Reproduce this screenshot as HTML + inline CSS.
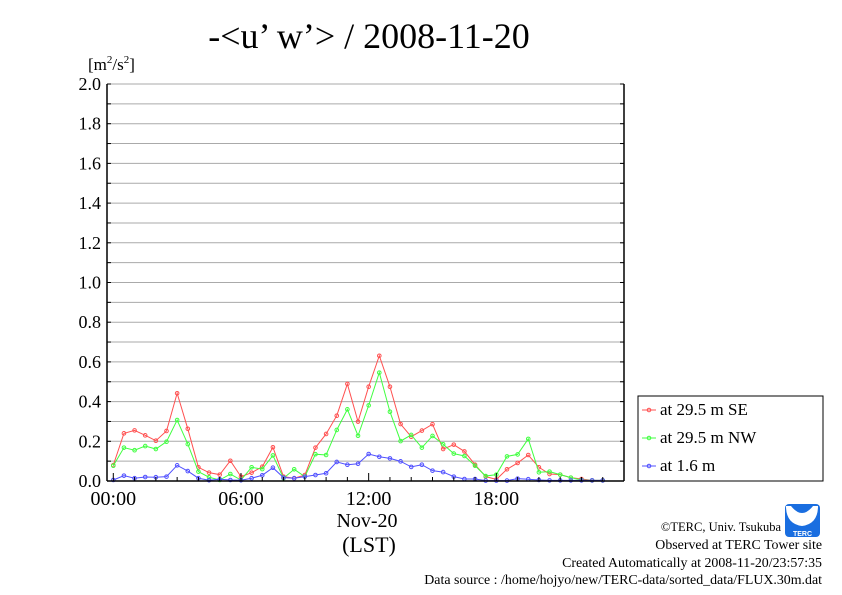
<!DOCTYPE html>
<html><head><meta charset="utf-8"><style>
body{margin:0;background:#fff;}
svg{display:block;font-family:"Liberation Serif",serif;}
</style></head><body>
<svg id="chart" width="842" height="595" viewBox="0 0 842 595">
<text x="369" y="48" font-size="36" text-anchor="middle">-&lt;u’ w’&gt; / 2008-11-20</text>
<text x="88" y="70" font-size="17">[m<tspan font-size="11" dy="-7">2</tspan><tspan dy="7">/s</tspan><tspan font-size="11" dy="-7">2</tspan><tspan dy="7">]</tspan></text>
<g id="grid"></g>
<g id="series"></g>
<g id="axes"></g>
<text x="367" y="527" font-size="20" text-anchor="middle">Nov-20</text>
<text x="369" y="552" font-size="22" text-anchor="middle">(LST)</text>
<g>
<rect x="638" y="396" width="185" height="85" fill="#fff" stroke="#000" stroke-width="1"/>
<g id="legend"></g>
</g>
<g>
<rect x="785" y="504" width="35" height="33" rx="4" fill="#1a6ee0"/>
<path d="M791 506 Q802 520 813 506 L818 506 Q818 524 802 526 Q786 524 786 506 Z" fill="#fff"/>
<circle cx="802" cy="517" r="3" fill="#fff"/>
<text x="802.5" y="536" font-size="7" fill="#fff" text-anchor="middle" font-family="Liberation Sans, sans-serif" font-weight="bold">TERC</text>
</g>
<g font-size="13.9" text-anchor="end">
<text x="781" y="531" font-size="12.5">©TERC, Univ. Tsukuba</text>
<text x="822" y="549">Observed at TERC Tower site</text>
<text x="822" y="567">Created Automatically at 2008-11-20/23:57:35</text>
<text x="822" y="584">Data source : /home/hojyo/new/TERC-data/sorted_data/FLUX.30m.dat</text>
</g>
</svg>
<script>
const seriesNames = ["at 29.5 m SE","at 29.5 m NW","at 1.6 m"];
const seriesColors = ["#ff5050","#40ff40","#5050ff"];
const redValues = [.08,.24,.255,.23,.203,.252,.442,.263,.069,.042,.032,.102,.022,.042,.072,.17,.022,.014,.03,.168,.237,.329,.489,.299,.475,.631,.475,.287,.223,.254,.286,.161,.183,.149,.082,.022,.008,.059,.091,.131,.069,.035,.032,.017,.01,.003,.003];
const greenValues = [.077,.168,.155,.176,.161,.198,.307,.186,.047,.019,.005,.035,.005,.069,.06,.129,.014,.059,.022,.135,.131,.257,.361,.228,.381,.546,.349,.201,.232,.168,.227,.185,.138,.126,.077,.025,.032,.124,.134,.212,.044,.047,.032,.017,.005,.003,.003];
const blueValues = [.005,.027,.014,.02,.019,.022,.079,.05,.014,.004,.009,.005,.004,.014,.029,.067,.017,.014,.022,.03,.039,.096,.082,.087,.136,.122,.114,.099,.071,.082,.052,.045,.022,.01,.01,.002,.002,.002,.012,.009,.005,.003,.003,.003,.003,.003,.003];
const yTickLabels = ["0.0","0.2","0.4","0.6","0.8","1.0","1.2","1.4","1.6","1.8","2.0"];
const xTickLabels = ["00:00","06:00","12:00","18:00"];
const xTickHours = [0,6,12,18];

const NS="http://www.w3.org/2000/svg";
const L=107,R=624,T=84,B=481;
function xs(h){return 113.3+h*21.28;}
function ys(v){return B-(v/2.0)*(B-T);}
function mk(tag,attrs,parent){const e=document.createElementNS(NS,tag);for(const k in attrs)e.setAttribute(k,attrs[k]);parent.appendChild(e);return e;}
const grid=document.getElementById('grid'),axes=document.getElementById('axes'),ser=document.getElementById('series'),leg=document.getElementById('legend');
for(let i=1;i<=20;i++){const v=i*0.1,y=ys(v);
 const g=mk('line',{x1:L,x2:R,y1:y,y2:y,stroke:'#aaa','stroke-width':1},grid);
 
 
 mk('line',{x1:R-4,x2:R,y1:y,y2:y,stroke:'#000'},axes);
 mk('line',{x1:L,x2:L+4,y1:y,y2:y,stroke:'#000'},axes);}
yTickLabels.forEach((s,i)=>{const v=parseFloat(s);const t=mk('text',{x:101,y:ys(v)+6,'font-size':18,'text-anchor':'end'},axes);t.textContent=s;
 
 });
mk('line',{x1:L,x2:L,y1:T,y2:B,stroke:'#000','stroke-width':1.5},axes);
mk('line',{x1:R,x2:R,y1:T,y2:B,stroke:'#000','stroke-width':1.5},axes);
mk('line',{x1:L,x2:R,y1:B,y2:B,stroke:'#000','stroke-width':1.5},axes);
for(let h=0;h<=23;h++){const x=xs(h);mk('line',{x1:x,x2:x,y1:B,y2:B-(h%6==0?8:4),stroke:'#000'},axes);}
xTickLabels.forEach((s,i)=>{const t=mk('text',{x:xs(xTickHours[i]),y:505,'font-size':20,'text-anchor':'middle'},axes);t.textContent=s;
 
 });
[redValues,greenValues,blueValues].forEach((vals,si)=>{
 const g=mk('g',{},ser);
 
 
 const pts=vals.map((v,i)=>xs(i*0.5)+','+ys(v)).join(' ');
 mk('polyline',{points:pts,fill:'none',stroke:seriesColors[si],'stroke-width':1},g);
 vals.forEach((v,i)=>{const c=mk('circle',{cx:xs(i*0.5),cy:ys(v),r:1.8,fill:'none',stroke:seriesColors[si],'stroke-width':1},g);
  
  });
 const y=410+si*28;
 const e=mk('g',{},leg);
 
 
 mk('line',{x1:642,x2:656,y1:y,y2:y,stroke:seriesColors[si]},e);
 mk('circle',{cx:649,cy:y,r:1.8,fill:'none',stroke:seriesColors[si]},e);
 const t=mk('text',{x:660,y:y+5,'font-size':17},e);t.textContent=seriesNames[si];
});
</script>
</body></html>
